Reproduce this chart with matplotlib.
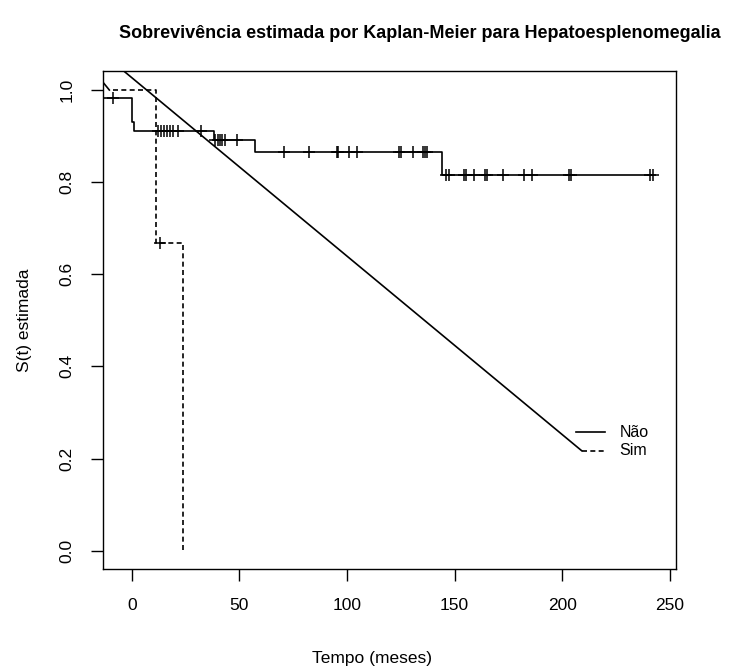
import numpy as np
import matplotlib
matplotlib.use("Agg")
import matplotlib.pyplot as plt

plt.rcParams["font.family"] = ["Liberation Sans", "DejaVu Sans"]

# Kaplan-Meier step functions (time of each step start, survival after it)
nao_times = [-14.0, 0.0, 1.2, 38.4, 57.1, 144.0]
nao_surv = [0.983, 0.931, 0.912, 0.891, 0.865, 0.815]
nao_end = 242.3
nao_censor = [-8.8,
              12.1, 13.6, 15.1, 16.6, 18.0, 19.4, 21.5, 32.2,
              38.8, 39.9, 41.0, 42.1, 43.2, 48.8,
              70.7, 82.2, 95.2, 96.0, 100.9, 104.8, 124.3, 125.1, 130.8,
              135.4, 136.2, 137.3,
              146.0, 147.2, 154.3, 155.3, 159.0, 164.1, 165.0, 172.3, 182.1,
              185.8, 203.0, 203.9, 240.9, 242.3]

sim_times = [-8.5, 11.3, 23.7]
sim_surv = [1.0, 0.667, 0.0]
sim_censor = [13.1]

# straight reference segments
diag_x = [-3.9, 209.0]
diag_y = [1.042, 0.217]
short_x = [-13.2, -10.4]
short_y = [1.016, 1.0]

groups = ["Não", "Sim"]
xticks = [0, 50, 100, 150, 200, 250]
yticks = [0.0, 0.2, 0.4, 0.6, 0.8, 1.0]

W, H, DPI = 729, 671, 100
fig = plt.figure(figsize=(W / DPI, H / DPI), dpi=DPI)
L, R, T, B = 103.3, 676.0, 70.7, 569.0
ax = fig.add_axes([L / W, 1 - B / H, (R - L) / W, (B - T) / H])
ax.set_xlim(-13.2, 252.8)
ax.set_ylim(-0.0397, 1.0419)

lw = 1.2
dash = (3.0, 2.0)


def step_value(times, surv, t):
    idx = np.searchsorted(np.asarray(times), t, side="right") - 1
    return np.asarray(surv)[idx]


# Não: solid
xs = list(nao_times) + [nao_end]
ys = list(nao_surv) + [nao_surv[-1]]
ax.step(xs, ys, where="post", color="black", lw=lw)
ax.plot(nao_censor, step_value(nao_times, nao_surv, np.array(nao_censor)),
        ls="none", marker="+", ms=9, mew=1.1, color="black")

# Sim: dashed
ax.step(sim_times, sim_surv, where="post", color="black", lw=lw,
        linestyle=(0, dash))
ax.plot(sim_censor, step_value(sim_times, sim_surv, np.array(sim_censor)),
        ls="none", marker="+", ms=9, mew=1.1, color="black")

ax.plot(diag_x, diag_y, color="black", lw=lw)
ax.plot(short_x, short_y, color="black", lw=lw)

# legend drawn in data coordinates
ax.plot([206.4, 219.8], [0.257, 0.257], color="black", lw=lw)
ax.plot([209.0, 219.8], [0.217, 0.217], color="black", lw=lw, linestyle=(0, dash))
ax.text(226.5, 0.257, groups[0], ha="left", va="center", fontsize=11.5)
ax.text(226.5, 0.217, groups[1], ha="left", va="center", fontsize=11.5)

ax.set_xticks(xticks)
ax.set_xticklabels([str(v) for v in xticks], fontsize=12.5)
ax.set_yticks(yticks)
ax.set_yticklabels([f"{v:.1f}" for v in yticks], fontsize=12.5,
                   rotation=90, va="center")
ax.tick_params(axis="both", direction="out", length=8.6, width=1.0,
               pad=12)
for s in ax.spines.values():
    s.set_linewidth(1.0)

fig.text(24 / W, 1 - 320 / H, "S(t) estimada", rotation=90,
         ha="center", va="center", fontsize=12.5)
fig.text(372 / W, 1 - 659 / H, "Tempo (meses)", ha="center", va="center",
         fontsize=12.5)
fig.text(419.5 / W, 1 - 33 / H,
         "Sobrevivência estimada por Kaplan-Meier para Hepatoesplenomegalia",
         ha="center", va="center", fontsize=13, fontweight="bold")

fig.savefig("out.png", dpi=DPI)
